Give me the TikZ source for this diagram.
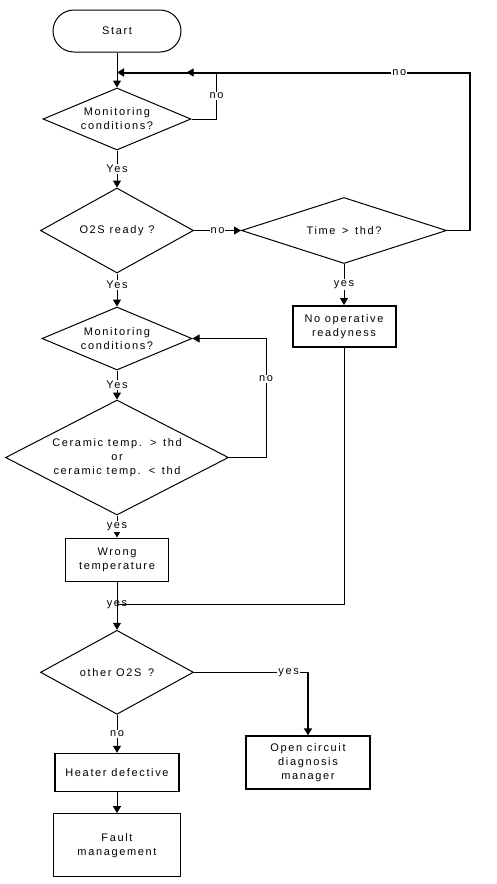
\documentclass[tikz,border=0pt]{standalone}
\usepackage{fontspec}
\setmainfont{Liberation Sans}[LetterSpace=15]
\usetikzlibrary{positioning,arrows.meta,shapes.geometric}

\begin{document}
\begin{tikzpicture}[x=1pt,y=-1pt,>={Triangle[length=7pt,width=8pt]},line width=1pt,
  font=\fontsize{11}{14}\selectfont,
  decision/.style={draw,diamond,inner sep=0pt,aspect=2.4,align=center},
  procbox/.style={draw,rectangle,inner sep=0pt,align=center,line width=1.3pt},
  lbl/.style={fill=white,inner sep=1pt}]
\useasboundingbox (0,0) rectangle (496,884);
% main column
\node (start) [draw,rounded corners=21pt,minimum width=128pt,minimum height=42pt] at (117,31) {Start};
\node (mon1) [decision,minimum width=148pt,minimum height=62pt,below=35pt of start] {Monitoring\\conditions?};
\node (ready) [decision,minimum width=153pt,minimum height=85pt,below=37pt of mon1] {O2S ready ?};
\node (mon2) [decision,minimum width=150pt,minimum height=63pt,below=33pt of ready] {Monitoring\\conditions?};
\node (ceram) [decision,aspect=1.9,minimum width=223pt,minimum height=115pt,below=29pt of mon2] {Ceramic temp. \,>\, thd\\or\\ceramic temp. \,<\, thd};
\node (wrong) [procbox,minimum width=103pt,minimum height=43pt,below=22pt of ceram] {Wrong\\temperature};
\node (other) [decision,minimum width=153pt,minimum height=84pt,below=48pt of wrong] {other O2S \,?};
\node (heater) [procbox,minimum width=124pt,minimum height=38pt,below=38pt of other] {Heater defective};
\node (fault) [procbox,minimum width=127pt,minimum height=63pt,below=21pt of heater] {Fault\\management};
% right column
\node (time) [decision,aspect=3.1,minimum width=205pt,minimum height=66pt,right=47pt of ready] {Time \,>\, thd?};
\node (noop) [procbox,line width=2pt,minimum width=103pt,minimum height=41pt,below=41pt of time] {No operative\\readyness};
\node (open) [procbox,line width=2pt,minimum width=124pt,minimum height=53pt,right=51pt of other.east,anchor=north west,yshift=-63pt] {Open circuit\\diagnosis\\manager};
\coordinate [below=20pt of start] (j1);
\coordinate [below=23pt of wrong] (j2);

\draw[->] (start) -- (mon1);
\draw (time.east) -- ++(23,0) coordinate (tr);
\draw[->,line width=2pt] (tr) |- (j1) node[lbl,pos=0.6]{no};
\draw[->] (mon1.east) -- ++(25,0) coordinate (c1) -- (c1 |- j1) node[lbl,midway]{no} -- ++(-30,0);
\draw[->] (mon1) -- node[lbl]{Yes} (ready);
\draw[->] (ready) -- node[lbl]{no} (time);
\draw[->] (ready) -- node[lbl,pos=0.35]{Yes} (mon2);
\draw[->] (mon2) -- node[lbl]{Yes} (ceram);
\draw[->] (ceram.east) -- ++(37,0) |- (mon2.east) node[lbl,pos=0.33]{no};
\draw[->] (ceram) -- node[lbl]{yes} (wrong);
\draw[->] (time) -- node[lbl]{yes} (noop);
\draw[->] (wrong) -- (other);
\draw (noop) |- (j2) node[pos=1,inner sep=0pt]{yes};
\draw (other.east) -- node[lbl,pos=0.83]{yes} (other.east -| open.north) coordinate (c2);
\draw[->,line width=2pt] (c2) -- (open);
\draw[->] (other) -- node[lbl]{no} (heater);
\draw[->] (heater) -- (fault);
\end{tikzpicture}
\end{document}
